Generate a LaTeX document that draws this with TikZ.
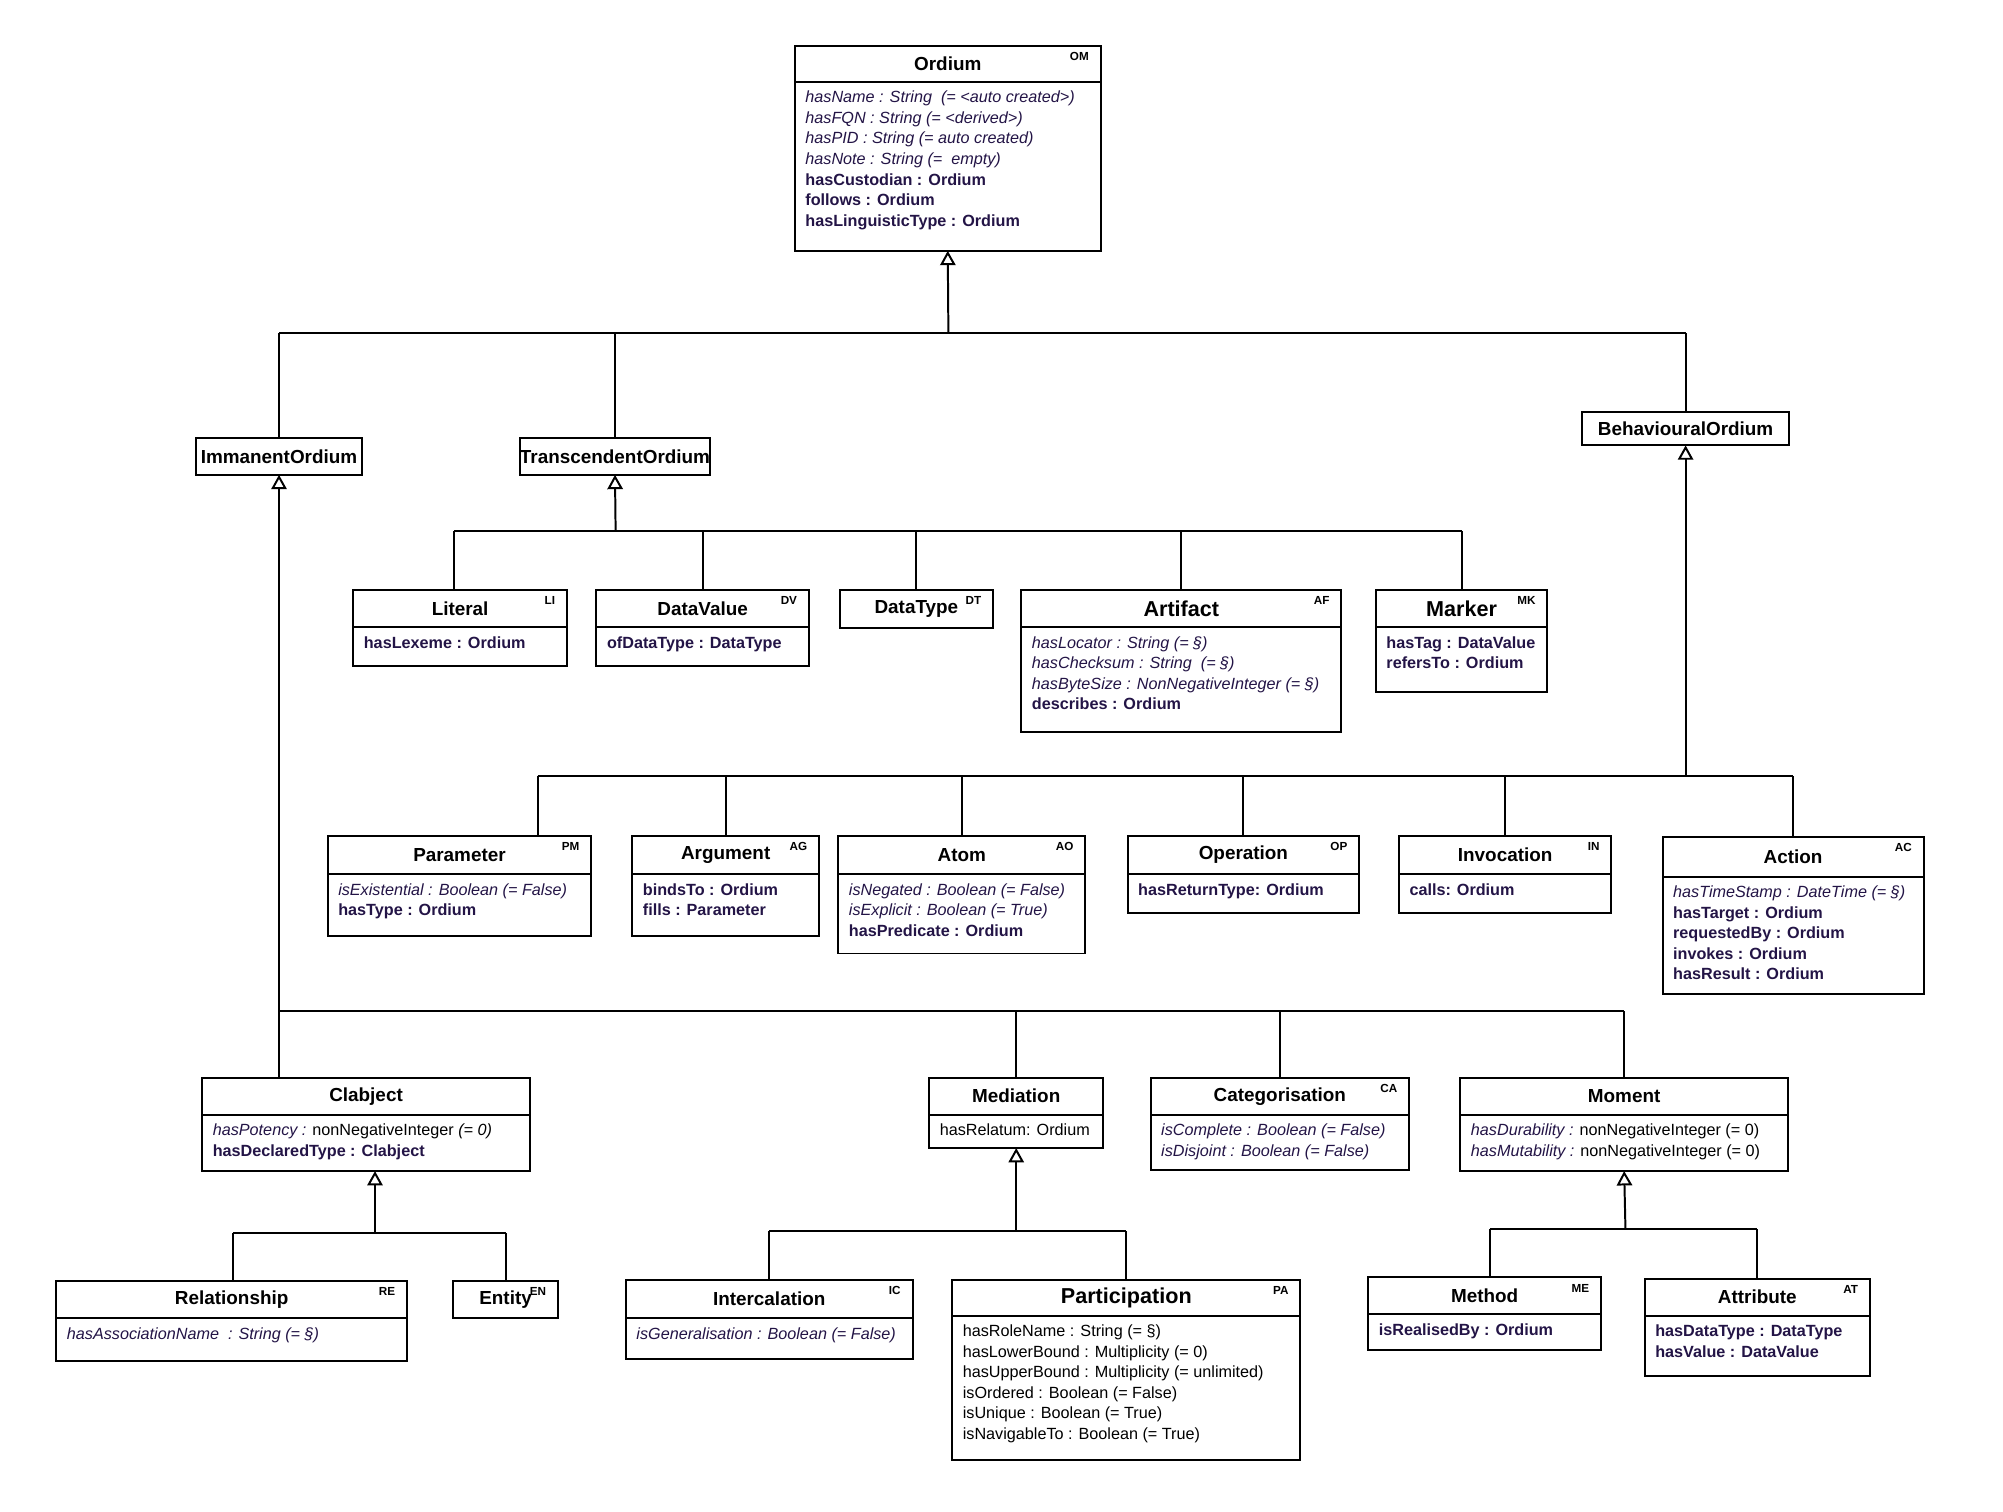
\documentclass[tikz,border=0pt]{standalone}
\usepackage{fontspec}
\setmainfont{Liberation Sans}
\usetikzlibrary{arrows.meta,calc}

\definecolor{attrcol}{RGB}{35,20,70}

\tikzset{
  frame/.style={draw, line width=1.1pt, inner sep=0pt, outer sep=0pt},
  titletext/.style={font=\fontsize{10.5}{12}\selectfont\bfseries, inner sep=0pt},
  tagtext/.style={font=\fontsize{6.5}{8}\selectfont\bfseries, inner sep=0pt},
  attrtext/.style={font=\fontsize{9}{11.4}\selectfont, text=attrcol, align=left, inner sep=0pt},
  link/.style={line width=1.1pt},
  gen/.style={line width=1.1pt, -{Triangle[open, length=0.28cm, width=0.3cm]}}
}

% class box: name, x1, y1, x2, y2, header height, title, tag, attributes
\newcommand{\umlclass}[9]{%
  \node[frame, minimum width={(#4-#2)*0.025cm}, minimum height={(#5-#3)*0.025cm}, anchor=north west] (#1) at (#2,#3) {};
  \draw[frame] ($(#1.north west)+(0,#6)$) -- ($(#1.north east)+(0,#6)$);
  \node[titletext] at ($(#1.north)+(0,#6/2)$) {#7};
  \node[tagtext, anchor=north east] at ($(#1.north east)+(-9,5)$) {#8};
  \node[attrtext, anchor=north west] at ($(#1.north west)+(8,#6+7)$) {#9};
}

\begin{document}
\begin{tikzpicture}[x=0.025cm, y=-0.025cm]
\useasboundingbox (0,0) rectangle (1565,1181);

% top
\umlclass{om}{621}{36}{860}{196}{28}{Ordium}{OM}{\textit{hasName : String\ \ (= <auto created>)}\\ \textit{hasFQN : String (= <derived>)}\\ \textit{hasPID : String (= auto created)}\\ \textit{hasNote : String (=\ \ empty)}\\ \textbf{hasCustodian : Ordium}\\ \textbf{follows : Ordium}\\ \textbf{hasLinguisticType : Ordium}}

% second level
\umlclass{imm}{153}{342}{283}{371}{29}{ImmanentOrdium}{}{}
\umlclass{tra}{406}{342}{555}{371}{29}{TranscendentOrdium}{}{}
\umlclass{beh}{1236}{322}{1398}{348}{26}{BehaviouralOrdium}{}{}

% transcendent children
\umlclass{lit}{276}{461}{443}{520}{29}{Literal}{LI}{\textbf{hasLexeme : Ordium}}
\umlclass{dv}{466}{461}{632}{520}{29}{DataValue}{DV}{\textbf{ofDataType : DataType}}
\umlclass{dt}{656}{461}{776}{491}{30}{DataType}{DT}{}
\umlclass{af}{798}{461}{1048}{572}{29}{\fontsize{12}{14}\selectfont Artifact}{AF}{\textit{hasLocator : String (= §)}\\ \textit{hasChecksum : String\ \ (= §)}\\ \textit{hasByteSize : NonNegativeInteger (= §)}\\ \textbf{describes : Ordium}}
\umlclass{mk}{1075}{461}{1209}{541}{29}{\fontsize{12}{14}\selectfont Marker}{MK}{\textbf{hasTag : DataValue}\\ \textbf{refersTo : Ordium}}

% behavioural children
\umlclass{pm}{256}{653}{462}{731}{30}{Parameter}{PM}{\textit{isExistential : Boolean (= False)}\\ \textbf{hasType : Ordium}}
\umlclass{ag}{494}{653}{640}{731}{30}{Argument}{AG}{\textbf{bindsTo : Ordium}\\ \textbf{fills : Parameter}}
\umlclass{ao}{655}{653}{848}{745}{30}{Atom}{AO}{\textit{isNegated : Boolean (= False)}\\ \textit{isExplicit : Boolean (= True)}\\ \textbf{hasPredicate : Ordium}}
\umlclass{op}{881}{653}{1062}{713}{30}{Operation}{OP}{\textbf{hasReturnType: Ordium}}
\umlclass{inv}{1093}{653}{1259}{713}{30}{Invocation}{IN}{\textbf{calls: Ordium}}
\umlclass{ac}{1299}{654}{1503}{777}{31}{Action}{AC}{\textit{hasTimeStamp : DateTime (= §)}\\ \textbf{hasTarget : Ordium}\\ \textbf{requestedBy : Ordium}\\ \textbf{invokes : Ordium}\\ \textbf{hasResult : Ordium}}

% immanent children
\umlclass{cj}{158}{842}{414}{915}{29}{Clabject}{}{\textit{hasPotency :} \color{black}nonNegativeInteger \textit{(= 0)}\\ \textbf{hasDeclaredType : Clabject}}
\umlclass{med}{726}{842}{862}{897}{29}{Mediation}{}{\color{black}hasRelatum: Ordium}
\umlclass{cat}{899}{842}{1101}{914}{29}{Categorisation}{CA}{\textit{isComplete : Boolean (= False)}\\ \textit{isDisjoint : Boolean (= False)}}
\umlclass{mom}{1141}{842}{1397}{915}{29}{Moment}{}{\textit{hasDurability :} \color{black}nonNegativeInteger (= 0)\\ \textit{hasMutability :} \color{black}nonNegativeInteger (= 0)}

% bottom level
\umlclass{rel}{44}{1001}{318}{1063}{29}{Relationship}{RE}{\textit{hasAssociationName\ \ : String (= §)}}
\umlclass{ent}{354}{1001}{436}{1030}{29}{Entity}{EN}{}
\umlclass{ic}{489}{1000}{713}{1062}{30}{Intercalation}{IC}{\textit{isGeneralisation : Boolean (= False)}}
\umlclass{pa}{744}{1000}{1016}{1141}{28}{\fontsize{12}{14}\selectfont Participation}{PA}{\color{black}hasRoleName : String (= §)\\ \color{black}hasLowerBound : Multiplicity (= 0)\\ \color{black}hasUpperBound : Multiplicity (= unlimited)\\ \color{black}isOrdered : Boolean (= False)\\ \color{black}isUnique : Boolean (= True)\\ \color{black}isNavigableTo : Boolean (= True)}
\umlclass{me}{1069}{998}{1251}{1055}{29}{Method}{ME}{\textbf{isRealisedBy : Ordium}}
\umlclass{at}{1285}{999}{1461}{1075}{29}{Attribute}{AT}{\textbf{hasDataType : DataType}\\ \textbf{hasValue : DataValue}}

% junctions
\coordinate (obus) at (741,260);
\coordinate (tbus) at (481,415);
\coordinate (bbus) at (1317,606);
\coordinate (ibus) at (218,790);
\coordinate (cbus) at (293,963);
\coordinate (mbus) at (794,962);
\coordinate (nbus) at (1270,960);
\coordinate (pm-t) at (420,653);
\coordinate (cj-t) at (218,842);
\coordinate (rel-t) at (182,1001);
\coordinate (ent-t) at (395,1001);
\coordinate (me-t) at (1164,998);
\coordinate (lit-t) at (355,461);

% generalisation from Ordium
\foreach \c in {imm,tra,beh} \draw[link] (\c.north) -- (\c.north |- obus);
\draw[link] (imm.north |- obus) -- (beh.north |- obus);
\draw[gen] (obus) -- (om.south);

% generalisation from TranscendentOrdium
\foreach \c in {lit-t,dv.north,dt.north,af.north,mk.north} \draw[link] (\c) -- (\c |- tbus);
\draw[link] (lit-t |- tbus) -- (mk.north |- tbus);
\draw[gen] (tbus) -- (tra.south);

% generalisation from BehaviouralOrdium
\foreach \c in {pm-t,ag.north,ao.north,op.north,inv.north,ac.north} \draw[link] (\c) -- (\c |- bbus);
\draw[link] (pm-t |- bbus) -- (ac.north |- bbus);
\draw[gen] (bbus) -- (beh.south);

% generalisation from ImmanentOrdium
\foreach \c in {med,cat,mom} \draw[link] (\c.north) -- (\c.north |- ibus);
\draw[link] (ibus) -- (mom.north |- ibus);
\draw[gen] (cj-t) -- (imm.south);

% generalisation from Clabject, Mediation, Moment
\foreach \c in {rel-t,ent-t} \draw[link] (\c) -- (\c |- cbus);
\draw[link] (rel-t |- cbus) -- (ent-t |- cbus);
\draw[gen] (cbus) -- (cbus |- cj.south);
\foreach \c in {ic,pa} \draw[link] (\c.north) -- (\c.north |- mbus);
\draw[link] (ic.north |- mbus) -- (pa.north |- mbus);
\draw[gen] (mbus) -- (med.south);
\foreach \c in {me-t,at.north} \draw[link] (\c) -- (\c |- nbus);
\draw[link] (me-t |- nbus) -- (at.north |- nbus);
\draw[gen] (nbus) -- (mom.south);

\end{tikzpicture}
\end{document}
